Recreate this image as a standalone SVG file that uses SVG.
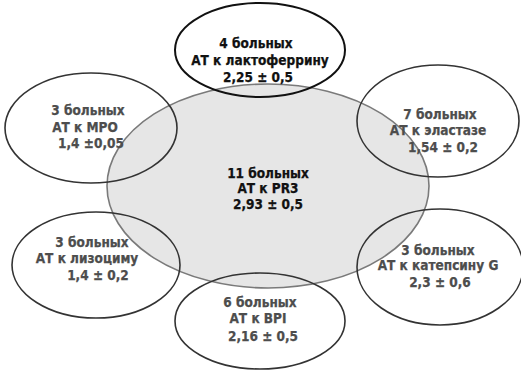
<svg xmlns="http://www.w3.org/2000/svg" width="521" height="370" viewBox="0 0 521 370">
  <style>
    .core { fill: #e6e6e6; stroke: #7a7a7a; stroke-width: 1.6; }
    .ring { fill: none; stroke: #333; stroke-width: 1.6; }
    .ring.dark { stroke: #111; stroke-width: 2; }
    text { font-family: "Liberation Sans Narrow", "DejaVu Sans Condensed", "Liberation Sans", sans-serif; font-stretch: condensed; font-weight: bold; font-size: 13.5px; text-anchor: middle; fill: #4d4d4d; stroke: #4d4d4d; stroke-width: 0.25; }
    .black text { fill: #111; stroke: #111; }
  </style>
  <rect width="521" height="370" fill="#fff"/>

  <!-- central antigen: PR3 -->
  <g id="pr3" class="black">
    <ellipse class="core" cx="268" cy="186" rx="161" ry="102"/>
    <text x="268" y="178">11 больных</text>
    <text x="268" y="193">АТ к  PR3</text>
    <text x="268" y="209">2,93 ± 0,5</text>
  </g>

  <g id="lactoferrin" class="black">
    <ellipse class="ring dark" cx="260" cy="50" rx="85" ry="47"/>
    <text x="256" y="48">4 больных</text>
    <text x="260" y="65">АТ к  лактоферрину</text>
    <text x="258" y="82">2,25 ± 0,5</text>
  </g>

  <g id="mpo">
    <ellipse class="ring" cx="91" cy="128" rx="86" ry="55"/>
    <text x="88" y="115">3 больных</text>
    <text x="85" y="132">АТ к  МРО</text>
    <text x="91" y="148">1,4 ±0,05</text>
  </g>

  <g id="elastase">
    <ellipse class="ring" cx="438" cy="121" rx="81" ry="56"/>
    <text x="440" y="119">7 больных</text>
    <text x="438" y="135">АТ к  эластазе</text>
    <text x="443" y="152">1,54 ± 0,2</text>
  </g>

  <g id="lysozyme">
    <ellipse class="ring" cx="96" cy="265" rx="84" ry="53"/>
    <text x="92" y="247">3 больных</text>
    <text x="87" y="263">АТ к лизоциму</text>
    <text x="98" y="280">1,4 ± 0,2</text>
  </g>

  <g id="cathepsin">
    <ellipse class="ring" cx="440" cy="267" rx="83" ry="58"/>
    <text x="438" y="255">3 больных</text>
    <text x="438" y="270">АТ к  катепсину  G</text>
    <text x="440" y="287">2,3 ± 0,6</text>
  </g>

  <g id="bpi">
    <ellipse class="ring" cx="260" cy="321" rx="85" ry="48"/>
    <text x="260" y="307">6 больных</text>
    <text x="258" y="323">АТ к  BPI</text>
    <text x="263" y="341">2,16 ± 0,5</text>
  </g>

  <g id="connectors"/>
</svg>
